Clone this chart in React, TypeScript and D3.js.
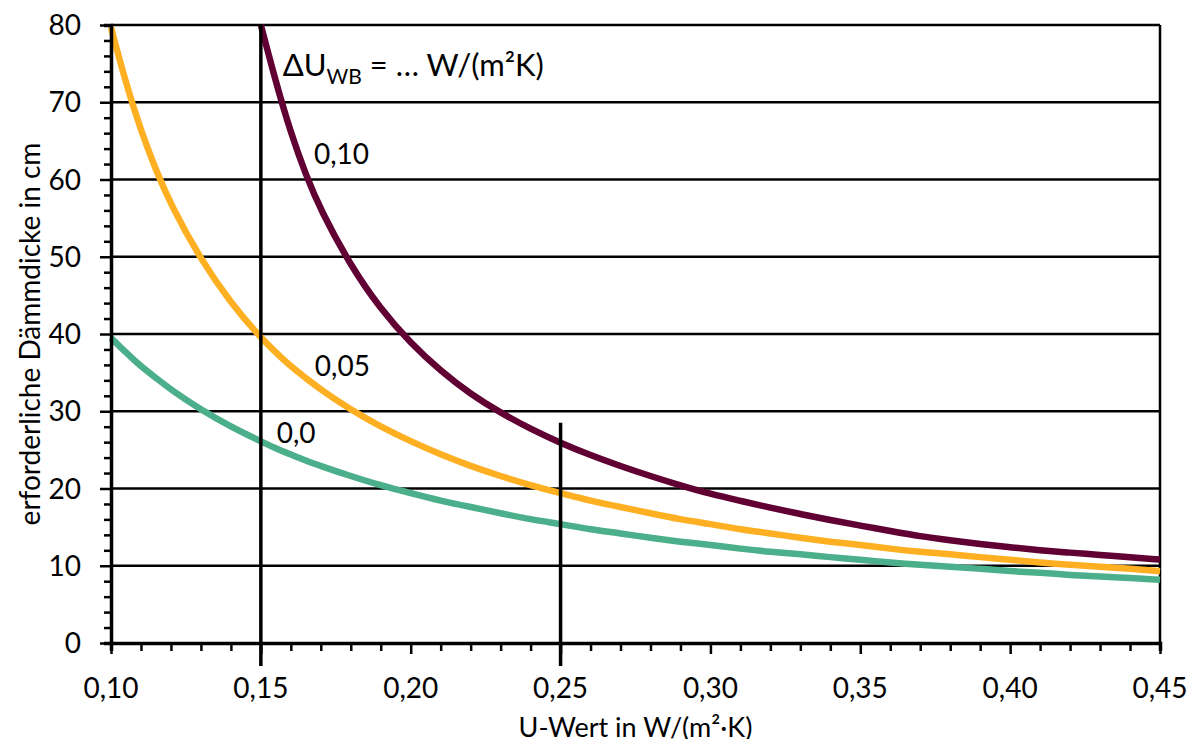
import React, { useEffect, useRef } from 'react';
import * as d3 from 'd3';

// U-Wert in W/(m²K)
const uValues = [0.10, 0.105, 0.11, 0.115, 0.12, 0.13, 0.14, 0.15, 0.155, 0.16, 0.165, 0.17, 0.18, 0.19, 0.20,
  0.21, 0.22, 0.23, 0.24, 0.25, 0.26, 0.27, 0.28, 0.29, 0.30, 0.31, 0.32, 0.33, 0.34, 0.35,
  0.36, 0.37, 0.38, 0.39, 0.40, 0.41, 0.42, 0.43, 0.44, 0.45];

// Dämmdicke in cm
const d00 = [39.5, 37.6, 35.8, 34.3, 32.8, 30.2, 28.0, 26.1, 25.2, 24.4, 23.6, 22.9, 21.6, 20.4, 19.4,
  18.4, 17.6, 16.8, 16.0, 15.4, 14.7, 14.2, 13.6, 13.1, 12.7, 12.2, 11.8, 11.5, 11.1, 10.8,
  10.4, 10.1, 9.9, 9.6, 9.3, 9.1, 8.8, 8.6, 8.4, 8.2];
const d05 = [79.7, 72.4, 66.3, 61.2, 56.7, 49.6, 44.0, 39.5, 37.6, 35.8, 34.3, 32.8, 30.2, 28.0, 26.1,
  24.4, 22.9, 21.6, 20.4, 19.4, 18.4, 17.6, 16.8, 16.0, 15.4, 14.7, 14.2, 13.6, 13.1, 12.7,
  12.2, 11.8, 11.5, 11.1, 10.8, 10.4, 10.1, 9.9, 9.6, 9.3];
const d10 = [null, null, null, null, null, null, null, 80.0, 72.6, 66.0, 60.6, 56.0, 48.8, 43.2, 38.8,
  35.2, 32.2, 29.8, 27.7, 25.9, 24.3, 22.9, 21.6, 20.4, 19.3, 18.4, 17.5, 16.7, 15.9, 15.2,
  14.5, 13.8, 13.3, 12.8, 12.4, 12.0, 11.7, 11.4, 11.1, 10.8];

const seriesColors = ['#4caf8b', '#feb022', '#600033'];
const seriesNames = ['0,0', '0,05', '0,10'];
// where the curve labels sit (U-Wert, cm)
const labelU = [0.1553, 0.1680, 0.1677];
const labelD = [27.2, 35.8, 63.3];

const xTicks = [0.10, 0.15, 0.20, 0.25, 0.30, 0.35, 0.40, 0.45];
const yTicks = [0, 10, 20, 30, 40, 50, 60, 70, 80];

// vertical marker lines: U-Wert and upper end in cm
const markerU = [0.15, 0.25];
const markerTop = [80, 28.5];

const FONT = 'Lato, Carlito, "Open Sans", sans-serif';

export default function App() {
  const ref = useRef<SVGSVGElement>(null);

  useEffect(() => {
    const width = 1200;
    const height = 747;
    const margin = { left: 111, right: 40, top: 25, bottom: 104 };
    const svg = d3.select(ref.current);
    svg.selectAll('*').remove();

    const x = d3.scaleLinear().domain([0.10, 0.45]).range([margin.left, width - margin.right]);
    const y = d3.scaleLinear().domain([0, 80]).range([height - margin.bottom, margin.top]);

    // gridlines
    svg.append('g')
      .selectAll('line')
      .data(yTicks.filter(d => d > 0))
      .enter().append('line')
      .attr('x1', x(0.10)).attr('x2', x(0.45))
      .attr('y1', d => y(d)).attr('y2', d => y(d))
      .attr('stroke', '#000').attr('stroke-width', 2.5);

    // right border
    svg.append('line')
      .attr('x1', x(0.45)).attr('x2', x(0.45))
      .attr('y1', y(0)).attr('y2', y(80))
      .attr('stroke', '#000').attr('stroke-width', 2.5);

    // curves
    const all = [d00, d05, d10];
    const line = d3.line<[number, number | null]>()
      .defined(d => d[1] != null)
      .x(d => x(d[0]))
      .y(d => y(d[1] as number))
      .curve(d3.curveBasis);
    all.forEach((vals, i) => {
      svg.append('path')
        .datum(uValues.map((u, j) => [u, vals[j]] as [number, number | null]))
        .attr('d', line)
        .attr('fill', 'none')
        .attr('stroke', seriesColors[i])
        .attr('stroke-width', 6.5);
    });

    // marker lines
    svg.append('g')
      .selectAll('line')
      .data(markerU)
      .enter().append('line')
      .attr('x1', d => x(d)).attr('x2', d => x(d))
      .attr('y1', (d, i) => y(markerTop[i]))
      .attr('y2', y(0) + 23)
      .attr('stroke', '#000').attr('stroke-width', 3.5);

    // axes
    const xAxis = d3.axisBottom(x)
      .tickValues(d3.range(10, 46).map(v => v / 100))
      .tickSize(8)
      .tickFormat(() => '');
    svg.append('g')
      .attr('transform', 'translate(0,' + y(0) + ')')
      .call(xAxis)
      .call(g => g.select('.domain').attr('stroke-width', 3.5))
      .call(g => g.selectAll('.tick line').attr('stroke-width', 2.5)
        .attr('y2', (d: any) => (Math.round(d * 100) % 5 === 0 ? 11 : 8)));

    const yAxis = d3.axisLeft(y)
      .tickValues(d3.range(0, 81, 2))
      .tickSize(7)
      .tickFormat(() => '');
    svg.append('g')
      .attr('transform', 'translate(' + x(0.10) + ',0)')
      .call(yAxis)
      .call(g => g.select('.domain').attr('stroke-width', 3.5))
      .call(g => g.selectAll('.tick line').attr('stroke-width', 2.5)
        .attr('x2', (d: any) => (d % 10 === 0 ? -11 : -7)));

    // tick labels
    svg.append('g')
      .selectAll('text')
      .data(xTicks)
      .enter().append('text')
      .attr('x', d => x(d))
      .attr('y', y(0) + 55)
      .attr('text-anchor', 'middle')
      .style('font-family', FONT)
      .style('font-size', '28px')
      .text(d => d3.format('.2f')(d).replace('.', ','));

    svg.append('g')
      .selectAll('text')
      .data(yTicks)
      .enter().append('text')
      .attr('x', x(0.10) - 30)
      .attr('y', d => y(d) + 10)
      .attr('text-anchor', 'end')
      .style('font-family', FONT)
      .style('font-size', '28px')
      .text(d => d);

    // axis titles
    svg.append('text')
      .attr('x', (x(0.10) + x(0.45)) / 2)
      .attr('y', 737)
      .attr('text-anchor', 'middle')
      .style('font-family', FONT)
      .style('font-size', '27px')
      .text('U-Wert in W/(m²·K)');

    svg.append('text')
      .attr('transform', 'translate(40,' + (y(0) + y(80)) / 2 + ') rotate(-90)')
      .attr('text-anchor', 'middle')
      .style('font-family', FONT)
      .style('font-size', '28px')
      .text('erforderliche Dämmdicke in cm');

    // annotations
    const head = svg.append('text')
      .attr('x', x(0.1573))
      .attr('y', y(75) + 12)
      .style('font-family', FONT)
      .style('font-size', '31px');
    head.append('tspan').text('ΔU');
    head.append('tspan').attr('dy', 8).style('font-size', '21px').text('WB');
    head.append('tspan').attr('dy', -8).text(' = … W/(m²K)');

    svg.append('g')
      .selectAll('text')
      .data(seriesNames)
      .enter().append('text')
      .attr('x', (d, i) => x(labelU[i]))
      .attr('y', (d, i) => y(labelD[i]) + 10)
      .style('font-family', FONT)
      .style('font-size', '28px')
      .text(d => d);
  }, []);

  return (
    <div style={{ margin: '-8px' }}>
      <svg ref={ref} width={1200} height={747} style={{ display: 'block', background: '#fff' }} />
    </div>
  );
}
